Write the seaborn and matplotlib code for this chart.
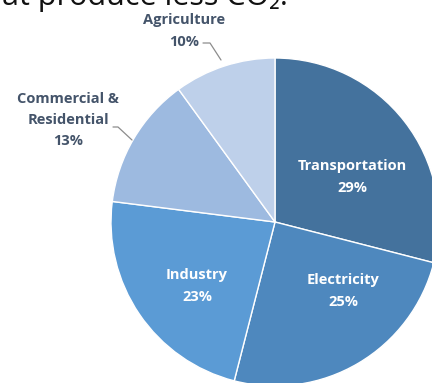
import matplotlib
matplotlib.use("Agg")
import matplotlib.pyplot as plt
import seaborn as sns

categories = ["Transportation", "Electricity", "Industry", "Commercial &\nResidential", "Agriculture"]
values = [29, 25, 23, 13, 10]
colors = ["#44729d", "#4e88be", "#5b9bd5", "#9dbae0", "#bed0ea"]

sns.set_theme(style="white")
plt.rcParams["font.family"] = ["Open Sans", "DejaVu Sans"]

W, H = 432, 383
fig = plt.figure(figsize=(W / 100, H / 100), dpi=100)
ax = fig.add_axes([0, 0, 1, 1])

cx, cy, r = 275, H - 222, 164
wedges, _ = ax.pie(values, colors=colors, startangle=90, counterclock=False,
                   center=(cx, cy), radius=r,
                   wedgeprops=dict(edgecolor="white", linewidth=1.0))
ax.set_xlim(0, W)
ax.set_ylim(0, H)
ax.set_aspect("equal")
ax.axis("off")

def P(x, y):
    return x, H - y

fs = 10.5
inside = {0: (352, 177), 1: (343, 291), 2: (197, 286)}
for i, (x, y) in inside.items():
    ax.text(*P(x, y), f"{categories[i]}\n{values[i]}%", ha="center", va="center",
            color="white", fontsize=fs, fontweight="bold", linespacing=1.8)

lab_col = "#44546a"
ax.text(*P(184, 31), f"{categories[4]}\n{values[4]}%", ha="center", va="center",
        color=lab_col, fontsize=fs, fontweight="bold", linespacing=1.75)
ax.text(*P(68, 120), f"{categories[3]}\n{values[3]}%", ha="center", va="center",
        color=lab_col, fontsize=fs, fontweight="bold", linespacing=1.65)

ax.plot([203, 210, 221], [H - 43, H - 43, H - 60], color="#8c8c8c", lw=0.9)
ax.plot([113, 118, 132], [H - 127, H - 127, H - 140], color="#8c8c8c", lw=0.9)

fig.text(2 / W, 1 - 5 / H, "at produce less CO₂.", ha="left", va="baseline",
         fontsize=22, color="#111111")

fig.savefig("out.png", dpi=100)
